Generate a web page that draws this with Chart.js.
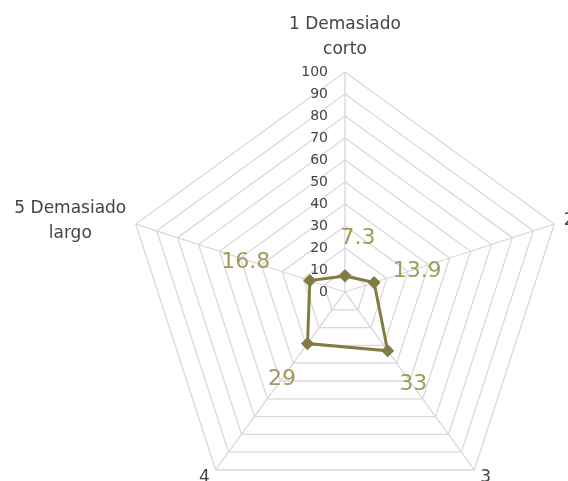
<!DOCTYPE html>
<html>
<head>
<meta charset="utf-8">
<script src="https://cdn.jsdelivr.net/npm/chart.js@4/dist/chart.umd.min.js"></script>
<style>
  html, body { margin: 0; padding: 0; background: #ffffff; }
  #wrap { width: 568px; height: 481px; }
</style>
</head>
<body>
<div id="wrap"><canvas id="radarChart"></canvas></div>
<script>
// categories (multi-line ones as arrays), values, and the radial axis ticks
const categories = [["1 Demasiado", "corto"], "2", "3", "4", ["5 Demasiado", "largo"]];
const values = [7.3, 13.9, 33, 29, 16.8];
const axisMin = 0;
const axisMax = 100;
const tickStep = 10;

const lineColor = "#827c42";
const valueColor = "#a19b58";
const textColor = "#444444";

// where the web sits on the page (the bottom ring runs close to the edge)
const webCenter = { x: 345, y: 292 };
const webRadius = 220;

// small nudges for the value labels so they sit like in the original
const labelNudge = [[13, 2], [5, 1], [2, 1], [-2, 3], [-26, -6]];

const radarText = {
  id: "radarText",
  afterDatasetsDraw(chart) {
    const scale = chart.scales.r;
    const ctx = chart.ctx;
    ctx.save();

    // tick labels left of the vertical axis
    ctx.font = "14px 'DejaVu Sans'";
    ctx.fillStyle = textColor;
    ctx.textAlign = "right";
    ctx.textBaseline = "middle";
    scale.ticks.forEach(function (t) {
      const d = scale.getDistanceFromCenterForValue(t.value);
      ctx.fillText(t.label, scale.xCenter - 17, scale.yCenter - d);
    });

    // category labels round the outside
    ctx.font = "17px 'DejaVu Sans'";
    const lh = 25;
    chart.data.labels.forEach(function (lab, i) {
      const lines = [].concat(lab);
      const p = scale.getPointPosition(i, scale.drawingArea + 10);
      const dx = p.x - scale.xCenter;
      const dy = p.y - scale.yCenter;
      const w = Math.max.apply(null, lines.map(l => ctx.measureText(l).width));
      let cx = p.x;
      if (dx > 5) cx = p.x + w / 2;
      else if (dx < -5) cx = p.x - w / 2;
      let top = p.y - (lines.length * lh) / 2;
      if (dy < -scale.drawingArea * 0.9) top = p.y - lines.length * lh;
      ctx.textAlign = "center";
      lines.forEach(function (l, k) {
        ctx.fillText(l, cx, top + lh * k + lh / 2);
      });
    });

    // value labels
    ctx.font = "22px 'DejaVu Sans'";
    ctx.fillStyle = valueColor;
    ctx.textAlign = "center";
    const ds = chart.data.datasets[0].data;
    ds.forEach(function (v, i) {
      const d = scale.getDistanceFromCenterForValue(v);
      const p = scale.getPointPosition(i, d + 40);
      ctx.fillText(String(v), p.x + labelNudge[i][0], p.y + labelNudge[i][1]);
    });

    ctx.restore();
  },
};

const ctx = document.getElementById("radarChart").getContext("2d");

new Chart(ctx, {
  type: "radar",
  data: {
    labels: categories,
    datasets: [
      {
        data: values,
        borderColor: lineColor,
        backgroundColor: "rgba(0,0,0,0)",
        borderWidth: 3,
        fill: false,
        pointStyle: "rectRot",
        pointRadius: 4.5,
        pointBackgroundColor: lineColor,
        pointBorderColor: lineColor,
        tension: 0,
      },
    ],
  },
  options: {
    responsive: true,
    maintainAspectRatio: false,
    animation: false,
    plugins: {
      legend: { display: false },
      tooltip: { enabled: false },
    },
    scales: {
      r: {
        min: axisMin,
        max: axisMax,
        beginAtZero: true,
        ticks: { display: false, stepSize: tickStep },
        pointLabels: { display: false },
        grid: { color: "#d9d9d9", lineWidth: 1.3 },
        angleLines: { color: "#d9d9d9", lineWidth: 1.3 },
        afterFit: function (scale) {
          scale.xCenter = webCenter.x;
          scale.yCenter = webCenter.y;
          scale.drawingArea = webRadius;
        },
      },
    },
  },
  plugins: [radarText],
});
</script>
</body>
</html>
